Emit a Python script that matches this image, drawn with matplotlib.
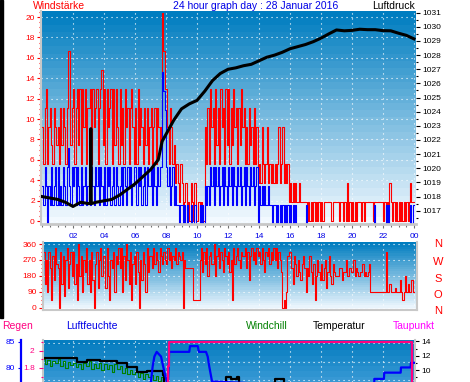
import numpy as np
import matplotlib
matplotlib.use('Agg')
import matplotlib.pyplot as plt
import matplotlib.transforms as mtransforms
from matplotlib.patches import Rectangle
from matplotlib.ticker import MultipleLocator, FixedLocator

plt.rcParams['font.family'] = ['Liberation Sans', 'DejaVu Sans']

W, H = 470, 382

# wind, 5 minute samples, read as knot steps (axis shows km/h), one row per hour
KN = 1.852
gust_kn = [5, 3, 6, 7, 3, 5, 6, 4, 3, 6, 5, 4,
           5, 3, 6, 4, 6, 5, 3, 6, 9, 9, 4, 6,
           7, 3, 6, 7, 4, 7, 3, 7, 5, 7, 3, 6,
           6, 7, 3, 7, 5, 6, 7, 3, 6, 7, 8, 4,
           7, 3, 7, 5, 6, 7, 3, 7, 4, 7, 5, 3,
           7, 4, 6, 3, 7, 5, 6, 3, 6, 7, 5, 3,
           6, 3, 7, 4, 6, 5, 3, 6, 4, 6, 3, 5,
           6, 3, 5, 6, 3, 6, 5, 4, 5, 11, 9, 7,
           7, 5, 3, 6, 5, 3, 4, 2, 3, 2, 1, 3,
           2, 0, 1, 2, 0, 1, 0, 2, 1, 0, 2, 0,
           0, 1, 0, 1, 0, 0, 5, 3, 6, 3, 7, 5,
           6, 3, 7, 4, 6, 3, 7, 5, 6, 3, 7, 4,
           7, 3, 6, 4, 7, 5, 6, 3, 6, 4, 7, 5,
           6, 3, 5, 3, 6, 4, 5, 3, 6, 3, 5, 2,
           3, 2, 5, 3, 2, 3, 5, 2, 3, 2, 3, 2,
           3, 2, 3, 5, 2, 3, 5, 2, 3, 2, 3, 1,
           2, 1, 2, 1, 2, 1, 1, 2, 1, 1, 1, 1,
           1, 0, 1, 0, 1, 0, 1, 0, 1, 0, 1, 0,
           1, 0, 1, 1, 1, 1, 1, 1, 0, 1, 1, 1,
           1, 1, 0, 1, 1, 0, 1, 0, 2, 0, 1, 0,
           1, 0, 1, 0, 1, 1, 1, 0, 1, 0, 1, 1,
           1, 1, 1, 1, 0, 1, 1, 1, 1, 1, 1, 1,
           0, 1, 0, 1, 0, 2, 1, 0, 1, 0, 1, 0,
           1, 0, 1, 0, 1, 0, 1, 0, 1, 2, 1, 1]
avg_kn = [2, 1, 3, 2, 0, 2, 1, 3, 1, 2, 3, 1,
          3, 1, 2, 1, 3, 2, 1, 3, 4, 2, 1, 3,
          2, 3, 1, 3, 2, 1, 3, 1, 2, 3, 1, 2,
          3, 1, 3, 2, 1, 3, 2, 3, 1, 3, 2, 1,
          3, 1, 3, 2, 3, 1, 2, 3, 1, 3, 2, 1,
          2, 3, 1, 3, 2, 1, 3, 2, 3, 1, 2, 3,
          3, 1, 3, 2, 3, 1, 2, 3, 1, 3, 2, 2,
          3, 1, 3, 2, 1, 3, 2, 3, 3, 8, 7, 6,
          3, 2, 3, 1, 2, 3, 1, 2, 1, 1, 0, 1,
          1, 0, 1, 0, 1, 0, 0, 1, 0, 0, 1, 0,
          0, 0, 1, 0, 1, 0, 2, 1, 2, 1, 3, 2,
          3, 1, 3, 2, 3, 1, 2, 3, 1, 3, 2, 1,
          3, 2, 3, 1, 3, 2, 1, 3, 2, 3, 1, 2,
          3, 1, 3, 2, 1, 3, 2, 3, 1, 2, 3, 0,
          2, 1, 2, 1, 2, 1, 1, 2, 1, 1, 0, 1,
          1, 0, 1, 0, 1, 0, 1, 0, 1, 0, 1, 0,
          1, 0, 1, 0, 1, 0, 0, 0, 0, 0, 0, 0,
          1, 0, 0, 0, 0, 0, 0, 0, 0, 0, 0, 0,
          0, 0, 0, 0, 0, 0, 0, 0, 0, 0, 0, 0,
          0, 0, 0, 0, 0, 0, 0, 0, 0, 0, 0, 0,
          0, 0, 0, 0, 0, 0, 0, 0, 0, 0, 0, 0,
          0, 0, 0, 0, 0, 1, 0, 0, 0, 0, 0, 0,
          0, 0, 1, 0, 1, 0, 0, 0, 0, 0, 0, 0,
          0, 0, 0, 0, 0, 0, 0, 0, 0, 1, 0, 1]

press_h = [0, 0.5, 1, 1.5, 2, 2.5, 3, 3.12, 3.15, 3.18, 3.5, 4, 4.5, 5, 5.5, 6, 6.5, 7,
           7.5, 7.75, 8, 8.5, 9, 9.5, 10, 10.5, 11, 11.5, 12, 12.5, 13, 13.5, 14, 14.5,
           15, 15.5, 16, 16.5, 17, 17.5, 18, 18.5, 19, 19.5, 20, 20.5, 21, 21.5, 22,
           22.5, 23, 23.5, 24]
press_hpa = [1018.0, 1017.9, 1017.8, 1017.6, 1017.3, 1017.6, 1017.5, 1017.5, 1022.8,
             1017.5, 1017.6, 1017.7, 1017.8, 1018.1, 1018.5, 1018.9, 1019.4, 1019.9,
             1020.6, 1021.9, 1022.4, 1023.4, 1024.2, 1024.55, 1024.8, 1025.45, 1026.2,
             1026.7, 1027.0, 1027.1, 1027.25, 1027.35, 1027.6, 1027.85, 1028.0, 1028.2,
             1028.45, 1028.6, 1028.75, 1028.95, 1029.2, 1029.5, 1029.78, 1029.72,
             1029.75, 1029.83, 1029.8, 1029.8, 1029.73, 1029.72, 1029.55, 1029.4, 1029.15]

# wind direction, 5 minute samples, one row per hour
dir_deg = [180, 315, 135, 270, 90, 315, 225, 45, 293, 158, 338, 248,
           225, 0, 315, 135, 293, 68, 270, 338, 113, 248, 315, 180,
           315, 135, 248, 45, 360, 180, 293, 90, 270, 203, 338, 135,
           270, 90, 315, 158, 0, 248, 315, 113, 270, 338, 180, 293,
           293, 113, 338, 180, 45, 270, 225, 315, 90, 293, 248, 338,
           225, 338, 90, 293, 158, 360, 270, 135, 315, 45, 248, 293,
           135, 315, 203, 0, 270, 158, 315, 248, 90, 338, 203, 293,
           293, 225, 338, 248, 315, 270, 203, 338, 293, 248, 315, 270,
           248, 338, 270, 315, 225, 293, 270, 338, 248, 315, 293, 270,
           315, 0, 270, 225, 225, 225, 225, 225, 225, 45, 45, 45,
           45, 45, 270, 338, 203, 315, 248, 338, 180, 293, 315, 248,
           248, 360, 180, 293, 338, 225, 315, 270, 203, 338, 293, 248,
           315, 203, 270, 45, 338, 248, 293, 338, 270, 225, 315, 293,
           293, 338, 225, 315, 158, 293, 338, 270, 315, 248, 338, 293,
           315, 248, 338, 270, 203, 315, 293, 338, 248, 315, 270, 338,
           270, 338, 225, 315, 270, 203, 0, 45, 0, 90, 293, 315,
           315, 225, 135, 293, 248, 180, 270, 203, 158, 248, 293, 225,
           90, 225, 180, 293, 203, 135, 248, 45, 180, 270, 203, 158,
           248, 158, 225, 270, 113, 203, 293, 180, 135, 248, 203, 180,
           180, 180, 225, 225, 158, 203, 203, 270, 180, 180, 225, 203,
           203, 270, 180, 225, 203, 180, 203, 203, 248, 180, 203, 180,
           203, 248, 90, 90, 90, 90, 90, 90, 90, 90, 90, 90,
           90, 90, 315, 90, 90, 135, 90, 90, 90, 113, 90, 90,
           90, 158, 90, 45, 90, 180, 90, 135, 90, 90, 158, 90]

# bottom panel
temp_h = [0, 1.6, 2.24, 2.88, 3.29, 3.74, 4.58, 4.82, 5.46, 6.11, 6.75, 7.83, 7.9,
          11.8, 11.9, 12.2, 12.6, 12.7, 14.9, 15.0, 15.5, 15.6, 24]
temp_c = [11.73, 11.73, 11.16, 11.4, 11.4, 11.26, 11.26, 11.0, 10.46, 9.72, 9.82, 9.26, 8.0,
          8.0, 9.0, 8.8, 9.0, 8.0, 8.0, 8.7, 8.7, 8.0, 8.0]
# windchill, 10 minute samples
chill_c = [11.6, 10.8, 11.4, 10.5, 11.2, 11.0, 11.5, 10.6, 11.3, 10.3, 11.1, 10.7,
           11.0, 10.4, 10.9, 10.2, 11.0, 10.5, 11.2, 10.2, 10.8, 10.3, 11.0, 10.0,
           10.9, 10.1, 10.7, 9.7, 10.8, 10.2, 10.5, 9.6, 10.3, 9.4, 10.0, 9.5,
           9.7, 9.0, 9.6, 8.8, 9.5, 9.0, 9.3, 8.6, 9.1, 8.5, 9.0, 8.4]
hum_h = [0, 6.75, 7.03, 7.14, 7.25, 7.4, 7.68, 7.89, 8.05, 8.13, 8.2, 9.5, 9.55, 10.05,
         10.12, 10.58, 10.69, 10.79, 10.97, 21.42, 21.44, 22.06, 22.08, 23.14, 23.16, 23.78,
         23.8, 24]
hum_pct = [76, 76, 77.4, 80.3, 82.2, 83.1, 82.2, 79.3, 77.4, 77.4, 83.1, 83.1, 84.2, 84.2,
           83.1, 83.1, 82.2, 80.3, 77.4, 76, 77.9, 77.9, 79.1, 79.1, 80.1, 80.1, 81.0, 81.0]
rain_h = [0, 8.1, 8.2, 23.9, 24]
rain_mm = [0, 1.82, 2.1, 0, 0]

hour_ticks = [2, 4, 6, 8, 10, 12, 14, 16, 18, 20, 22, 24]
hour_labels = ['02', '04', '06', '08', '10', '12', '14', '16', '18', '20', '22', '00']
wind_ticks = list(range(0, 21, 2))
press_ticks = list(range(1017, 1032))
dir_ticks = [0, 90, 180, 270, 360]
compass = ['N', 'W', 'S', 'O', 'N']

GRAY = '#c8c8c8'
BLUE = '#0000e6'
PINK = '#ff0080'

fig = plt.figure(figsize=(W / 100, H / 100), dpi=100)


def px_axes(x0, y0, x1, y1):
    return fig.add_axes([x0 / W, 1 - y1 / H, (x1 - x0) / W, (y1 - y0) / H])


def px_text(x, y, s, **kw):
    fig.text(x / W, 1 - y / H, s, va='center', **kw)


def gradient(ax, top, bottom, bands=30):
    f = np.linspace(0, 1, bands)[:, None]
    img = (np.array(top) + (np.array(bottom) - np.array(top)) * f) / 255
    ax.imshow(img[:, None, :], extent=(0, 1, 0, 1), transform=ax.transAxes,
              aspect='auto', interpolation='nearest', zorder=0)


def frame(ax, sides):
    for s in ax.spines:
        ax.spines[s].set_visible(s in sides)
        ax.spines[s].set_color(GRAY)
        ax.spines[s].set_linewidth(1.5)


def dotted(ax):
    ax.grid(True, which='major', color='white', lw=0.8, ls=(0, (1, 3.5)))


t5 = np.arange(len(gust_kn) + 1) / 12

# --- wind / pressure ---
ax1 = px_axes(41, 11, 416, 224)
gradient(ax1, (0, 125, 192), (242, 249, 255))
ax1.step(t5, np.array(gust_kn + gust_kn[-1:]) * KN, where='post', color='red', lw=0.8)
# mean wind sits a couple of pixels lower in the original, its zero line hides under the axis
blue_shift = ax1.transData + mtransforms.ScaledTranslation(0, -2.5 / 100, fig.dpi_scale_trans)
ax1.step(t5, np.array(avg_kn + avg_kn[-1:]) * KN, where='post', color='blue', lw=0.8,
         transform=blue_shift)
ax1.set_xlim(-1 / 15.5, 24 + 2 / 15.5)
ax1.set_ylim(-0.29, 20.59)
ax1.xaxis.set_major_locator(FixedLocator(hour_ticks))
ax1.set_xticklabels(hour_labels)
ax1.xaxis.set_minor_locator(MultipleLocator(0.5))
ax1.yaxis.set_major_locator(FixedLocator(wind_ticks))
ax1.yaxis.set_minor_locator(MultipleLocator(0.5))
ax1.tick_params(axis='x', which='major', length=3.2, width=0.8, color='#707070',
                labelcolor=BLUE, labelsize=6, pad=3.5)
ax1.tick_params(axis='x', which='minor', length=1.8, width=0.8, color='#707070')
ax1.tick_params(axis='y', which='major', length=3, width=0.8, color='red',
                labelcolor='red', labelsize=6, pad=1.5)
ax1.tick_params(axis='y', which='minor', length=1.6, width=0.8, color='red')
frame(ax1, ['left', 'bottom'])
ax1.spines['bottom'].set_linewidth(2)
dotted(ax1)

ax1r = ax1.twinx()
ax1r.plot(press_h, press_hpa, color='black', lw=2.2)
ax1r.set_ylim(1016.06, 1031.12)
ax1r.yaxis.set_major_locator(FixedLocator(press_ticks))
ax1r.yaxis.set_minor_locator(MultipleLocator(0.5))
ax1r.tick_params(axis='y', which='major', length=3, width=0.8, color='black',
                 labelsize=6, pad=1.5)
ax1r.tick_params(axis='y', which='minor', length=1.6, width=0.8, color='black')
frame(ax1r, [])

# --- wind direction ---
ax2 = px_axes(43, 242, 417, 310)
gradient(ax2, (0, 125, 192), (242, 249, 255))
ax2.step(t5, dir_deg + dir_deg[-1:], where='post', color='red', lw=0.8)
ax2.set_xlim(1 / 15.5, 375 / 15.5)
ax2.set_ylim(-11.25, 371.25)
ax2.xaxis.set_major_locator(FixedLocator(hour_ticks))
ax2.tick_params(axis='x', length=0, labelbottom=False)
ax2.yaxis.set_major_locator(FixedLocator(dir_ticks))
ax2.yaxis.set_minor_locator(MultipleLocator(22.5))
ax2.tick_params(axis='y', which='major', length=3, width=0.8, color='red',
                labelcolor='red', labelsize=6, pad=1.5)
ax2.tick_params(axis='y', which='minor', length=1.6, width=0.8, color='red')
frame(ax2, ['left', 'bottom', 'right'])
dotted(ax2)
for letter, y in zip(compass, [244, 262, 279, 295, 311]):
    px_text(438, y, letter, color='red', fontsize=8, ha='center')

# --- temperature / humidity / rain ---
ax3 = px_axes(43, 340, 415, 382)
gradient(ax3, (5, 125, 192), (55, 152, 212), bands=8)
ax3.step(np.arange(len(chill_c)) / 6, chill_c, where='post', color='#008000', lw=0.8)
ax3.step(temp_h, temp_c, where='post', color='black', lw=1.6)
ax3.set_xlim(1 / 15.5, 373 / 15.5)
ax3.set_ylim(8.32, 14.21)
ax3.xaxis.set_major_locator(FixedLocator(hour_ticks))
ax3.tick_params(axis='x', length=0, labelbottom=False)
ax3.grid(True, axis='x', color='white', lw=0.8, ls=(0, (1, 3.5)))
for lv in [13.75, 11.17, 8.6]:
    ax3.axhline(lv, color='white', lw=0.8, ls=(0, (1, 3.5)), zorder=1.5)
frame(ax3, ['left', 'right'])

ax3h = ax3.twinx()
ax3h.plot(hum_h, hum_pct, color='blue', lw=1.6)
ax3h.set_ylim(77.3, 85.38)
ax3h.yaxis.tick_left()
frame(ax3h, ['left'])
ax3h.spines['left'].set_position(('axes', -22 / 372))
ax3h.spines['left'].set_color('blue')
ax3h.spines['left'].set_linewidth(1.6)
ax3h.yaxis.set_major_locator(FixedLocator([80, 85]))
ax3h.tick_params(axis='y', length=2.5, width=0.8, color='blue', labelcolor='blue',
                 labelsize=6, pad=1.5)

ax3r = ax3.twinx()
ax3r.step(rain_h, rain_mm, where='post', color=PINK, lw=1.6)
ax3r.set_ylim(1.638, 2.124)
ax3r.yaxis.tick_left()
frame(ax3r, [])
ax3r.set_yticks([1.8, 2.0], ['1.8', '2'])
ax3r.yaxis.set_minor_locator(MultipleLocator(0.1))
ax3r.tick_params(axis='y', which='major', length=3, width=0.8, color=PINK,
                 labelcolor=PINK, labelsize=6, pad=3)
ax3r.tick_params(axis='y', which='minor', length=1.6, width=0.8, color=PINK)

# temperature scale on the right (twinx moved it to the left)
ax3.yaxis.tick_right()
ax3.yaxis.set_major_locator(FixedLocator([10, 12, 14]))
ax3.yaxis.set_minor_locator(MultipleLocator(1))
ax3.tick_params(axis='y', which='major', length=3, width=0.8, color='black',
                labelsize=6, pad=1.5, left=False, labelleft=False)
ax3.tick_params(axis='y', which='minor', length=1.6, width=0.8, color='black', left=False)

# --- titles ---
px_text(33, 6, 'Windstärke', color='red', fontsize=7.5, ha='left')
px_text(256, 6, '24 hour graph day : 28 Januar 2016', color=BLUE, fontsize=7.5, ha='center')
px_text(415, 6, 'Luftdruck', color='black', fontsize=7.5, ha='right')
px_text(2, 326, 'Regen', color=PINK, fontsize=7.5, ha='left')
px_text(66, 326, 'Luftfeuchte', color=BLUE, fontsize=7.5, ha='left')
px_text(246, 326, 'Windchill', color='#008000', fontsize=7.5, ha='left')
px_text(313, 326, 'Temperatur', color='black', fontsize=7.5, ha='left')
px_text(393, 326, 'Taupunkt', color='#ff00ff', fontsize=7.5, ha='left')

fig.patches.append(Rectangle((0, 1 - 318 / H), 3 / W, 318 / H, transform=fig.transFigure,
                             color='black'))

fig.savefig('out.png', dpi=100)
